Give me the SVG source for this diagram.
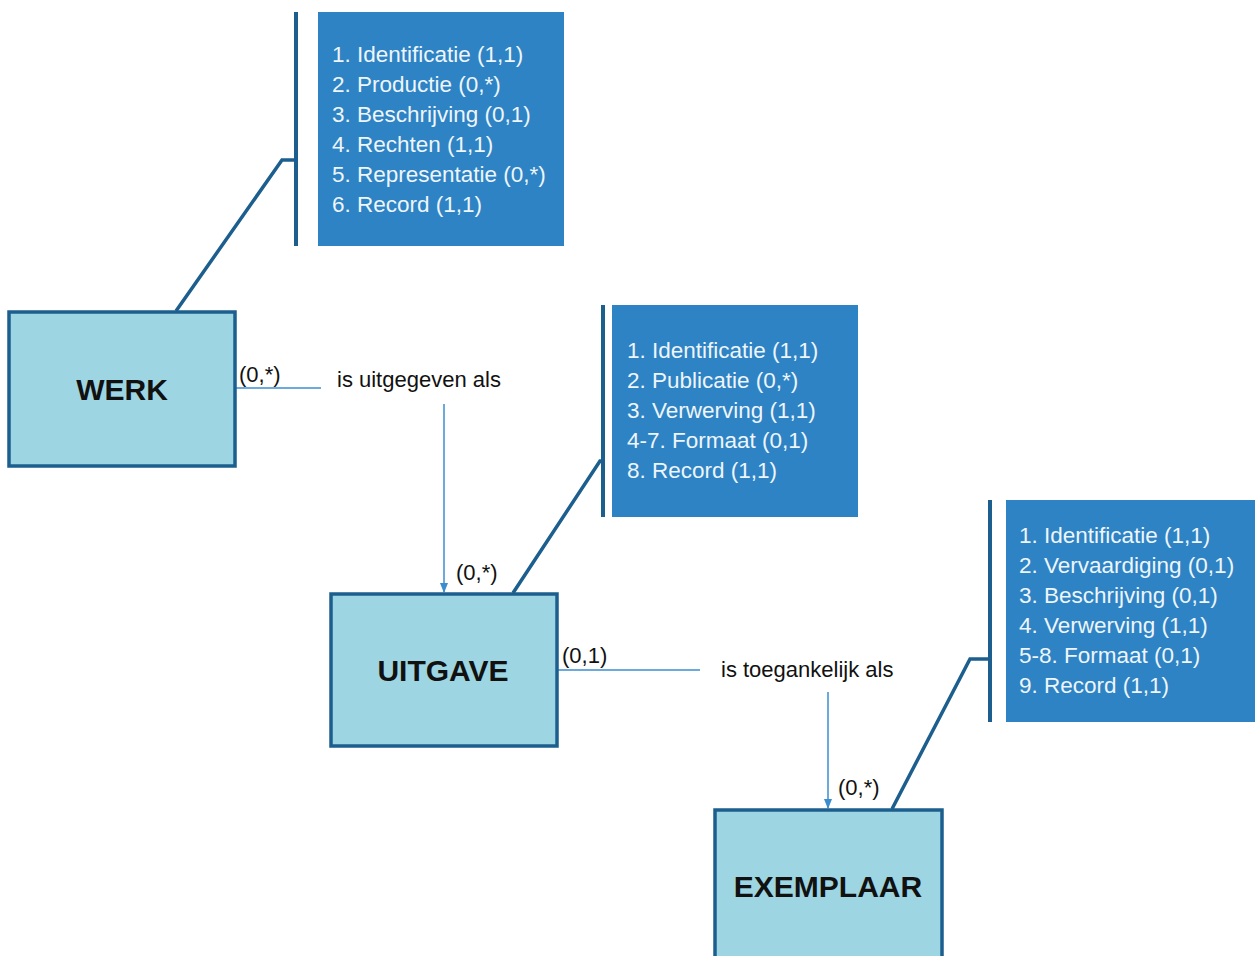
<svg xmlns="http://www.w3.org/2000/svg" width="1255" height="956" viewBox="0 0 1255 956">
<defs>
<style>
.node{fill:#9DD6E2;stroke:#1C5F8E;stroke-width:3.5}
.title{font-family:"Liberation Sans",Arial,sans-serif;font-weight:bold;font-size:30px;fill:#111;text-anchor:middle}
.attr{fill:#2D83C3}
.bar{stroke:#1C5F8E;stroke-width:4;fill:none}
.link{stroke:#1C5F8E;stroke-width:3.5;fill:none}
.rel{stroke:#3A8ECF;stroke-width:1.5;fill:none}
.at{font-family:"Liberation Sans",Arial,sans-serif;font-size:22.5px;fill:#EEF5FB}
.lbl{font-family:"Liberation Sans",Arial,sans-serif;font-size:22px;fill:#111}
.card{font-family:"Liberation Sans",Arial,sans-serif;font-size:22px;fill:#111}
</style>
<marker id="arr" markerWidth="10" markerHeight="10" refX="9" refY="5" orient="auto" markerUnits="userSpaceOnUse">
<path d="M0,1 L10,5 L0,9 Z" fill="#3A8ECF"/>
</marker>
</defs>
<rect width="1255" height="956" fill="#fff"/>

<g id="connectors">
<polyline class="link" points="176,311 282,160 296,160"/>
<polyline class="link" points="513,593 600,461 603,461"/>
<polyline class="link" points="892,809 970,659 990,659"/>
<line class="rel" x1="236" y1="388" x2="321" y2="388"/>
<line class="rel" x1="444" y1="404" x2="444" y2="592" marker-end="url(#arr)"/>
<line class="rel" x1="558" y1="670" x2="700" y2="670"/>
<line class="rel" x1="828" y1="692" x2="828" y2="808" marker-end="url(#arr)"/>
<text class="card" x="239" y="382">(0,*)</text>
<text class="lbl" x="337" y="387">is uitgegeven als</text>
<text class="card" x="456" y="580">(0,*)</text>
<text class="card" x="562" y="663">(0,1)</text>
<text class="lbl" x="721" y="677">is toegankelijk als</text>
<text class="card" x="838" y="795">(0,*)</text>
</g>

<g id="werk-attrs">
<line class="bar" x1="296" y1="12" x2="296" y2="246"/>
<rect class="attr" x="318" y="12" width="246" height="234"/>
<text class="at" x="332" y="62">1. Identificatie (1,1)</text>
<text class="at" x="332" y="92">2. Productie  (0,*)</text>
<text class="at" x="332" y="122">3. Beschrijving (0,1)</text>
<text class="at" x="332" y="152">4. Rechten (1,1)</text>
<text class="at" x="332" y="182">5. Representatie (0,*)</text>
<text class="at" x="332" y="212">6. Record (1,1)</text>
</g>

<g id="uitgave-attrs">
<line class="bar" x1="603" y1="305" x2="603" y2="517"/>
<rect class="attr" x="612" y="305" width="246" height="212"/>
<text class="at" x="627" y="358">1. Identificatie (1,1)</text>
<text class="at" x="627" y="388">2. Publicatie (0,*)</text>
<text class="at" x="627" y="418">3. Verwerving  (1,1)</text>
<text class="at" x="627" y="448">4-7. Formaat  (0,1)</text>
<text class="at" x="627" y="478">8. Record (1,1)</text>
</g>

<g id="exemplaar-attrs">
<line class="bar" x1="990" y1="500" x2="990" y2="722"/>
<rect class="attr" x="1006" y="500" width="249" height="222"/>
<text class="at" x="1019" y="543">1. Identificatie (1,1)</text>
<text class="at" x="1019" y="573">2. Vervaardiging (0,1)</text>
<text class="at" x="1019" y="603">3. Beschrijving (0,1)</text>
<text class="at" x="1019" y="633">4. Verwerving  (1,1)</text>
<text class="at" x="1019" y="663">5-8. Formaat  (0,1)</text>
<text class="at" x="1019" y="693">9. Record (1,1)</text>
</g>

<g id="werk">
<rect class="node" x="9" y="312" width="226" height="154"/>
<text class="title" x="122" y="400">WERK</text>
</g>

<g id="uitgave">
<rect class="node" x="331" y="594" width="226" height="152"/>
<text class="title" x="443" y="681">UITGAVE</text>
</g>

<g id="exemplaar">
<rect class="node" x="715" y="810" width="227" height="160"/>
<text class="title" x="828" y="897">EXEMPLAAR</text>
</g>
</svg>
